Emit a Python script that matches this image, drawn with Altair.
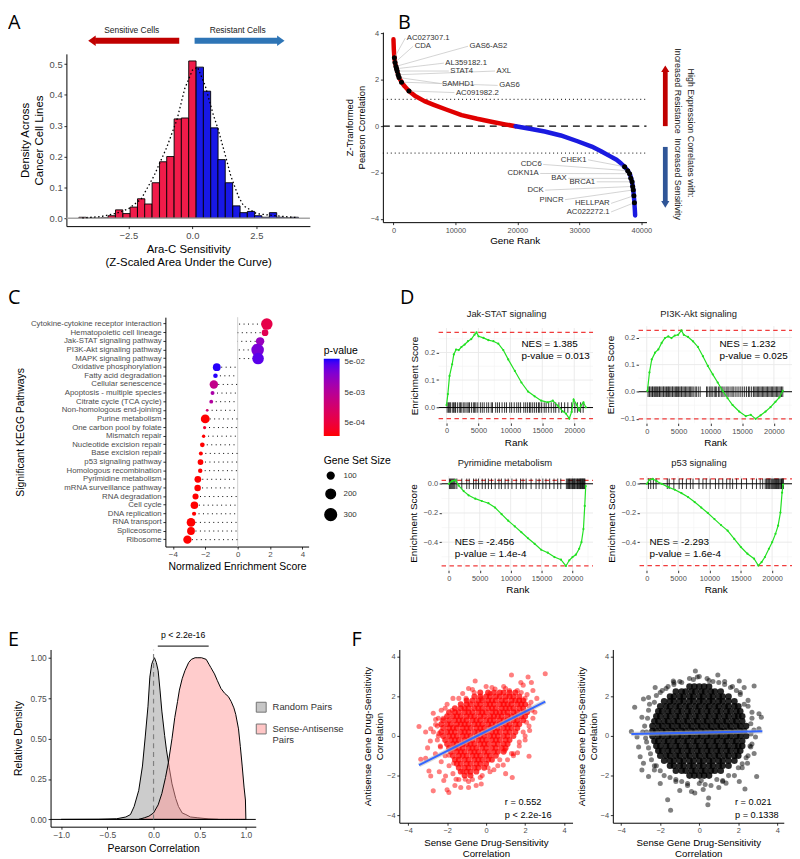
import altair as alt
import pandas as pd

# ======================= DATA =======================
# --- A: histogram of Ara-C sensitivity (30 bins) ---
A_BIN_CENTERS = [-4.29,-4.0,-3.72,-3.43,-3.15,-2.86,-2.57,-2.29,-2.0,-1.72,-1.43,-1.14,-0.86,-0.57,-0.29,
                 0.0,0.29,0.57,0.86,1.14,1.43,1.72,2.0,2.29,2.57,2.86,3.15,3.43,3.72,4.0]
A_DENSITY = [0.003,0.0,0.0,0.001,0.008,0.027,0.015,0.036,0.063,0.046,0.115,0.183,0.200,0.322,0.325,
             0.510,0.490,0.412,0.293,0.190,0.115,0.040,0.018,0.022,0.008,0.003,0.018,0.003,0.001,0.003]
A_BINWIDTH = 0.286
A_DENS_X = [-4.3,-3.6,-3.0,-2.5,-2.0,-1.5,-1.0,-0.6,-0.3,0.0,0.2,0.5,0.8,1.0,1.3,1.5,1.8,2.0,2.5,3.0,3.5,4.1]
A_DENS_Y = [0.001,0.005,0.015,0.03,0.062,0.137,0.23,0.32,0.42,0.48,0.49,0.43,0.34,0.29,0.2,0.137,0.07,0.04,0.015,0.01,0.006,0.002]
A_XTICKS = [-2.5, 0, 2.5]
A_YTICKS = [0, 0.1, 0.2, 0.3, 0.4, 0.5]

# --- B: ranked z-transformed correlations ---
B_RANK_RED = [0,60,150,250,400,600,900,1300,1800,2500,3500,5000,6500,8500,11000,13500,16000,18000,19700]
B_VAL_RED = [3.75,3.3,2.95,2.75,2.58,2.38,2.1,1.9,1.72,1.52,1.3,1.08,0.92,0.72,0.48,0.32,0.18,0.08,0.0]
B_RANK_BLUE = [19700,22000,24400,27000,29700,32000,33500,35000,36000,36700,37300,37800,38200,38500,38700,38850,38950,39000]
B_VAL_BLUE = [0.0,-0.11,-0.23,-0.4,-0.65,-0.88,-1.08,-1.3,-1.45,-1.6,-1.75,-1.92,-2.1,-2.4,-2.75,-3.2,-3.6,-3.85]
B_THRESH = [1.16, -1.16]
B_TOP_LABELS = ["AC027307.1","CDA","GAS6-AS2","AL359182.1","STAT4","AXL","SAMHD1","GAS6","AC091982.2"]
B_TOP_LAB_RANK = [1900,3180,12030,8130,8930,16390,7600,16820,9840]
B_TOP_LAB_VAL = [3.80,3.45,3.45,2.72,2.38,2.38,1.84,1.76,1.45]
B_TOP_DOT_RANK = [150,250,400,500,600,750,900,1300,2500]
B_TOP_DOT_VAL = [2.95,2.75,2.58,2.48,2.38,2.22,2.1,1.9,1.52]
B_BOT_LABELS = ["CHEK1","CDC6","CDKN1A","BAX","BRCA1","DCK","PINCR","HELLPAR","AC022272.1"]
B_BOT_LAB_RANK = [31400,24160,23680,28200,32790,24480,27680,35120,35120]
B_BOT_LAB_VAL = [-1.45,-1.65,-2.04,-2.25,-2.40,-2.76,-3.17,-3.33,-3.70]
B_BOT_DOT_RANK = [37300,37800,38100,38300,38500,38600,38700,38800,38880]
B_BOT_DOT_VAL = [-1.75,-1.92,-2.05,-2.25,-2.4,-2.6,-2.75,-3.0,-3.3]
B_XTICKS = [0, 10000, 20000, 30000, 40000]
B_YTICKS = [-4, -2, 0, 2, 4]

# --- C: KEGG GSEA dot plot ---
C_PATHWAYS = ["Cytokine-cytokine receptor interaction","Hematopoietic cell lineage","Jak-STAT signaling pathway",
              "PI3K-Akt signaling pathway","MAPK signaling pathway","Oxidative phosphorylation","Fatty acid degradation",
              "Cellular senescence","Apoptosis - multiple species","Citrate cycle (TCA cycle)","Non-homologous end-joining",
              "Purine metabolism","One carbon pool by folate","Mismatch repair","Nucleotide excision repair",
              "Base excision repair","p53 signaling pathway","Homologous recombination","Pyrimidine metabolism",
              "mRNA surveillance pathway","RNA degradation","Cell cycle","DNA replication","RNA transport",
              "Spliceosome","Ribosome"]
C_NES = [1.80,1.69,1.385,1.232,1.26,-1.29,-1.37,-1.47,-1.55,-1.63,-1.88,-2.0,-2.04,-2.1,-2.18,-2.27,-2.293,
         -2.31,-2.456,-2.47,-2.6,-2.67,-2.69,-2.88,-2.88,-3.1]
C_PVAL = [7e-4,9e-4,0.013,0.025,0.04,0.06,0.06,3.5e-3,8e-3,6e-3,1.8e-3,1.9e-4,4e-4,1.9e-4,1.9e-4,1.9e-4,1.6e-4,
          1.9e-4,1.4e-4,1.9e-4,1.9e-4,1.9e-4,1.9e-4,1.9e-4,1.9e-4,1.9e-4]
C_SIZE = [290,97,155,350,295,133,44,156,32,30,13,173,20,23,47,33,72,41,99,91,79,124,36,165,134,153]
C_XTICKS = [-4, -2, 0, 2, 4]

# --- D: GSEA running enrichment scores (ranks in thousands) ---
D_XTICKS = [0, 5000, 10000, 15000, 20000]
D_XMINOR = [2500, 7500, 12500, 17500, 22500]
JAK_HITS_K = [0.1,0.3,0.5,0.6,0.9,1.1,1.3,1.4,1.7,2.0,2.2,2.4,2.7,2.9,3.2,3.4,3.6,3.9,4.2,4.4,4.6,4.9,5.3,5.6,5.9,
              6.3,6.6,7.0,7.2,7.7,8.0,8.3,8.7,9.1,9.4,9.9,10.2,10.6,11.0,11.3,11.6,12.1,12.4,12.7,13.0,13.2,13.5,
              13.8,14.1,14.4,14.6,14.9,15.3,15.6,16.0,16.4,16.8,17.1,17.6,18.0,18.5,19.0,19.6,20.1,20.5,21.0,21.4]
JAK_CURVE_K = [0,0.21,0.47,0.88,1.14,1.5,1.91,2.33,2.84,3.36,3.88,4.39,4.7,5.01,5.79,6.56,7.34,8.11,8.89,9.66,10.7,
               11.73,12.77,13.8,14.83,15.87,16.64,17.42,18.19,18.71,19.23,19.59,19.9,20.41,20.78,21.03,21.45,21.81]
JAK_CURVE_ES = [0.009,0.049,0.115,0.157,0.193,0.211,0.209,0.22,0.229,0.241,0.249,0.265,0.273,0.259,0.253,0.245,
                0.241,0.232,0.209,0.175,0.133,0.091,0.058,0.041,0.025,0.019,0.025,0.007,-0.014,-0.022,-0.04,-0.016,
                0.029,0.009,-0.011,0.007,0.019,0.001]
JAK_LIMITS = [0.273, -0.04]
PI3K_HITS_K = [0.2,0.4,0.5,0.7,0.9,1.0,1.2,1.4,1.5,1.7,1.9,2.0,2.2,2.4,2.6,2.7,2.9,3.1,3.3,3.4,3.6,3.8,4.0,4.1,4.3,
               4.5,4.7,4.8,5.0,5.2,5.4,5.5,5.7,5.9,6.1,6.3,6.5,6.7,6.9,7.1,7.3,7.6,7.8,8.1,8.4,9.4,9.6,9.9,10.1,
               10.3,10.6,10.8,11.0,11.3,11.5,11.8,12.0,12.3,12.6,12.8,13.1,13.4,13.6,13.9,14.2,14.5,14.8,15.1,15.4,
               15.7,16.0,16.2,16.5,16.8,17.0,17.2,17.4,17.6,17.8,18.0,18.2,18.4,18.6,18.8,19.0,19.2,19.4,19.6,19.8,
               20.0,20.2,20.4,20.6,20.8,21.0,21.2,21.4]
PI3K_CURVE_K = [0.1,0.42,0.78,1.3,1.82,2.34,2.86,3.38,3.89,4.41,4.93,5.45,5.82,6.49,7.27,8.05,8.83,9.61,10.38,
                11.16,11.94,12.72,13.5,14.54,15.58,16.36,17.13,17.91,18.69,19.47,20.25,20.87,21.39]
PI3K_CURVE_ES = [0.003,0.071,0.119,0.144,0.156,0.18,0.198,0.204,0.198,0.207,0.21,0.226,0.21,0.202,0.186,0.165,
                 0.131,0.095,0.064,0.034,0.003,-0.024,-0.049,-0.073,-0.09,-0.085,-0.1,-0.087,-0.073,-0.057,-0.037,
                 -0.021,0.003]
PI3K_LIMITS = [0.226, -0.1]
PYR_HITS_K = [0.1,0.25,0.4,0.55,0.7,0.85,1.0,1.3,2.1,2.9,3.3,4.0,4.4,4.8,5.4,5.9,6.4,6.9,7.5,8.1,8.5,9.1,9.6,10.2,
              10.9,11.6,12.0,12.5,13.3,14.1,14.6,15.2,15.7,16.3,17.0,17.6,18.1,19.0,19.2,19.35,19.5,19.6,19.75,19.9,
              20.0,20.15,20.3,20.4,20.55,20.7,20.8,20.95,21.1,21.2,21.3,21.4,21.5,21.6,21.7,21.8,21.9,22.0]
PYR_CURVE_K = [0,0.53,1.07,1.6,2.4,3.2,4.27,5.33,6.4,7.47,8.53,9.6,10.67,11.73,12.8,13.87,14.93,16.0,17.07,18.13,
               18.93,19.47,20.0,20.53,21.07,21.44,21.76,21.97,22.13]
PYR_CURVE_ES = [0.0,0.018,0.024,-0.012,-0.05,-0.079,-0.102,-0.118,-0.133,-0.163,-0.208,-0.253,-0.292,-0.332,-0.373,
                -0.411,-0.452,-0.472,-0.502,-0.52,-0.563,-0.524,-0.502,-0.486,-0.445,-0.4,-0.31,-0.152,-0.016]
PYR_LIMITS = [0.024, -0.563]
P53_HITS_K = [0.26,0.63,1.05,1.48,3.27,3.58,4.32,5.16,5.69,6.32,6.96,7.38,8.33,8.96,9.49,10.12,10.96,11.49,12.12,
              12.75,13.28,13.7,14.33,15.12,15.92,16.86,17.5,18.1,18.5,18.9,19.1,19.3,19.45,19.6,19.8,19.95,20.1,
              20.25,20.4,20.55,20.7,20.85,21.0,21.1,21.25,21.4,21.5,21.6,21.7,21.8]
P53_CURVE_K = [0,0.42,0.95,1.58,2.37,3.42,4.48,5.53,6.58,7.64,8.69,9.74,10.8,11.85,12.9,13.96,15.01,16.06,17.12,
               17.8,18.33,18.85,19.49,20.01,20.54,20.96,21.33,21.59,21.75]
P53_CURVE_ES = [0.0,0.027,0.034,0.018,0.0,-0.023,-0.041,-0.064,-0.091,-0.125,-0.163,-0.2,-0.242,-0.283,-0.321,
                -0.378,-0.433,-0.479,-0.513,-0.56,-0.536,-0.502,-0.445,-0.4,-0.343,-0.287,-0.197,-0.061,-0.005]
P53_LIMITS = [0.034, -0.56]

# --- E: densities of correlation ---
E_RAND_X = [-1.0,-0.6,-0.4,-0.3,-0.25,-0.21,-0.16,-0.12,-0.09,-0.06,-0.04,-0.02,0.0,0.01,0.03,0.05,0.07,0.09,
            0.12,0.14,0.17,0.2,0.24,0.27,0.31,0.35,0.4,0.48,0.6,0.7]
E_RAND_Y = [0.0,0.001,0.004,0.015,0.03,0.08,0.18,0.33,0.51,0.7,0.88,0.96,0.99,1.0,0.97,0.92,0.8,0.67,0.52,0.43,
            0.32,0.22,0.13,0.08,0.04,0.03,0.015,0.01,0.003,0.0]
E_SENSE_X = [-0.16,-0.1,-0.05,0.0,0.05,0.09,0.13,0.16,0.2,0.23,0.26,0.28,0.31,0.34,0.38,0.41,0.45,0.48,0.52,0.57,
             0.6,0.62,0.66,0.69,0.73,0.77,0.81,0.84,0.87,0.89,0.92,0.94,0.96,0.98,0.995,1.0]
E_SENSE_Y = [0.0,0.01,0.02,0.04,0.09,0.16,0.26,0.35,0.5,0.63,0.73,0.8,0.87,0.92,0.97,0.99,1.0,1.0,1.0,0.99,0.96,
             0.94,0.9,0.86,0.81,0.78,0.76,0.73,0.69,0.65,0.56,0.45,0.33,0.2,0.12,0.0]
E_GROUPS = ["Random Pairs", "Sense-Antisense Pairs"]
E_XTICKS = [-1.0, -0.5, 0.0, 0.5, 1.0]
E_YTICKS = [0.0, 0.25, 0.5, 0.75, 1.0]

# --- F: sense vs antisense scatter ---
F_TICKS = [-4, -2, 0, 2, 4]
RED_SPARSE = [(-3.44,0.48),(-2.84,0.37),(-2.71,1.15),(-2.59,0.83),(-2.2,0.9),(-1.74,1.3),(-1.03,1.9),(-0.56,2.78),
              (-0.61,2.2),(-0.25,1.9),(0.2,2.15),(0.46,2.37),(1.3,3.08),(1.78,2.7),(1.9,2.57),(2.15,2.98),(2.32,2.7),
              (3.03,3.15),(2.07,0.7),(2.23,0.28),(2.2,-1.02),(1.34,-2.1),(1.61,-0.85),(0.88,-1.47),(-0.25,-2.42),
              (-0.51,-2.5),(-1.07,-2.18),(-1.54,-2.18),(-2.0,-2.72),(-1.91,-2.85),(-2.71,-2.77),(-2.93,-1.77),
              (-2.84,-2.02),(-2.17,-2.25),(-2.08,-2.02),(-3.35,-1.17),(-3.1,-1.13),(-2.42,0.12),(-2.59,0.58),
              (-2.86,-0.25),(-2.34,-0.55),(-1.91,-0.97),(-1.66,-1.38),(0.96,-0.72),(1.3,-0.88),(2.4,2.3),(2.2,1.5),
              (2.5,1.2),(2.4,0.9),(1.9,0.2),(1.7,-0.3),(1.4,-1.0),(0.7,-1.2),(0.4,-1.7),(0.1,-1.6),(-0.2,-2.0),
              (-0.7,-2.2),(-1.2,-1.8),(-2.3,-1.3),(-2.6,-0.9),(-2.5,-0.2),(-2.7,0.2),(-2.1,1.4),(-1.4,1.9),
              (-0.9,2.4),(0.0,2.5),(0.9,2.5),(1.2,2.3),(1.8,2.2),(2.0,1.9),(-1.6,-2.5),(-2.4,-1.8),(-1.3,-2.6),
              (-3.0,-0.6),(-3.1,0.2),(2.6,1.9),(1.0,-1.9),(-0.9,-2.6),(2.0,-0.2),
              (-2.5,0.5),(-2.45,0.9),(-2.3,1.3),(-2.0,1.6),(-1.7,1.9),(-1.2,2.15),(-0.7,2.35),(0.3,2.45),
              (1.0,2.4),(1.6,2.3),(2.1,2.1),(2.3,1.7),(2.35,1.3),(2.2,0.5),(2.0,0.0),(1.7,-0.5),(1.4,-0.9),
              (1.1,-1.2),(0.6,-1.5),(0.2,-1.8),(-0.3,-2.1),(-0.9,-2.3),(-1.4,-2.2),(-1.7,-1.9),(-1.9,-1.5),
              (-2.1,-1.0),(-2.35,-0.5),(-2.45,0.0)]
RED_CORE = {2.2:[-0.3,0.1,0.4,0.7,0.9,1.2,1.5],
            2.0:[-0.6,-0.3,0.0,0.2,0.5,0.7,1.0,1.2,1.4,1.7],
            1.8:[-1.0,-0.7,-0.4,-0.2,0.1,0.3,0.5,0.8,1.0,1.3,1.5,1.7,1.9],
            1.6:[-1.3,-1.0,-0.8,-0.5,-0.3,0.0,0.2,0.4,0.7,0.9,1.1,1.3,1.6,1.8,2.0],
            1.4:[-1.6,-1.3,-1.1,-0.9,-0.6,-0.4,-0.2,0.1,0.3,0.5,0.8,1.0,1.2,1.4,1.7,1.9],
            1.2:[-1.9,-1.6,-1.4,-1.1,-0.9,-0.7,-0.4,-0.2,0.0,0.3,0.5,0.7,0.9,1.1,1.4,1.6,1.9,2.1],
            1.0:[-2.0,-1.7,-1.5,-1.3,-1.0,-0.8,-0.6,-0.3,-0.1,0.2,0.4,0.6,0.8,1.1,1.3,1.5,1.8,2.0],
            0.8:[-2.2,-1.9,-1.6,-1.4,-1.2,-1.0,-0.7,-0.5,-0.3,0.0,0.2,0.4,0.7,0.9,1.1,1.4,1.6,1.9],
            0.6:[-2.3,-2.0,-1.8,-1.5,-1.3,-1.1,-0.9,-0.6,-0.4,-0.2,0.1,0.3,0.5,0.7,1.0,1.2,1.5,1.7],
            0.4:[-2.2,-1.9,-1.7,-1.5,-1.2,-1.0,-0.8,-0.5,-0.3,-0.1,0.2,0.4,0.6,0.9,1.1,1.3,1.6],
            0.2:[-2.3,-2.0,-1.8,-1.6,-1.3,-1.1,-0.9,-0.6,-0.4,-0.2,0.0,0.3,0.5,0.7,1.0,1.2,1.5],
            0.0:[-2.2,-1.9,-1.7,-1.5,-1.2,-1.0,-0.8,-0.5,-0.3,-0.1,0.2,0.4,0.6,0.9,1.1,1.4],
            -0.2:[-2.1,-1.8,-1.6,-1.4,-1.1,-0.9,-0.7,-0.4,-0.2,0.0,0.3,0.5,0.7,1.0,1.2],
            -0.4:[-2.0,-1.7,-1.5,-1.2,-1.0,-0.8,-0.6,-0.3,-0.1,0.1,0.4,0.6,0.9,1.1],
            -0.6:[-1.9,-1.6,-1.4,-1.2,-0.9,-0.7,-0.5,-0.2,0.0,0.3,0.5,0.8,1.0],
            -0.8:[-1.8,-1.5,-1.3,-1.1,-0.8,-0.6,-0.4,-0.1,0.1,0.4,0.6,0.9],
            -1.0:[-1.7,-1.4,-1.2,-1.0,-0.7,-0.5,-0.3,0.0,0.2,0.5],
            -1.2:[-1.6,-1.4,-1.1,-0.9,-0.6,-0.4,-0.2,0.1,0.3],
            -1.4:[-1.5,-1.3,-1.0,-0.8,-0.5,-0.3,0.0],
            -1.6:[-1.4,-1.1,-0.9,-0.6,-0.4,-0.1],
            -1.8:[-1.3,-1.0,-0.8,-0.5],
            -2.0:[-1.1,-0.8]}
BLACK_SPARSE = [(-3.31,1.45),(-3.48,0.23),(-2.94,0.95),(-2.86,1.87),(-2.6,1.95),(-2.26,2.45),(-1.33,2.78),
                (-0.2,3.28),(-0.1,2.98),(0.95,3.08),(2.05,2.78),(2.3,2.45),(2.81,2.53),(3.06,1.12),(3.18,0.95),
                (2.64,0.62),(2.94,-2.05),(2.34,-2.68),(2.05,-2.3),(1.37,-2.38),(0.48,-3.13),(0.44,-3.47),
                (-0.23,-2.88),(-1.0,-2.75),(-1.62,-3.22),(-1.47,-3.75),(-2.6,-2.05),(-2.94,-1.72),(-3.11,-0.55),
                (-3.03,-1.05),(-2.86,-1.38),(-2.3,-1.72),(-3.19,-0.05),(2.64,-0.55),(2.81,-0.88),(2.47,-1.38),
                (2.88,-0.05),(3.06,0.37),(-2.8,0.5),(-2.7,-0.3),(-2.6,1.3),(-2.0,2.2),(-1.7,2.4),(-0.9,2.7),
                (-0.5,2.9),(0.4,2.9),(0.7,2.75),(1.3,2.6),(1.7,2.5),(2.1,2.2),(2.5,1.8),(2.7,1.2),(2.8,0.3),
                (2.7,-0.4),(2.5,-1.0),(2.2,-1.6),(1.8,-2.0),(1.2,-2.3),(0.6,-2.5),(0.0,-2.4),(-0.6,-2.4),
                (-1.2,-2.3),(-1.8,-2.0),(-2.2,-1.5),(-2.5,-0.9),(-2.9,0.2),(-2.3,1.7),(0.2,-2.7),(-0.4,-2.8),
                (1.0,-2.6),(-1.3,2.6),(-2.0,-2.4),(2.3,1.6),
                (-2.65,0.9),(-2.6,-0.6),(-2.55,1.6),(-2.45,-1.2),(-2.2,2.05),(-2.0,-1.75),(-1.6,2.5),(-1.5,-2.1),
                (-1.0,2.75),(-0.9,-2.3),(-0.3,2.85),(0.1,-2.25),(0.5,2.8),(0.9,-2.2),(1.0,2.7),(1.5,-2.0),
                (1.6,2.45),(2.0,-1.6),(2.1,2.1),(2.4,-1.1),(2.5,1.5),(2.6,-0.5),(2.7,0.9),(2.65,0.1),(-2.7,0.2),
                (-2.75,-0.1),(-2.3,-1.5),(-1.9,2.3),(1.9,2.3),(2.2,-1.4),(-0.6,-2.5),(0.3,-2.45),(1.2,-2.25),
                (-1.2,-2.2),(0.0,3.0),(-1.3,2.7),(1.3,2.75)]
BLACK_CORE = {2.5:[-0.5,-0.25,0.0,0.25,0.5],
              2.25:[-1.2,-0.9,-0.7,-0.4,-0.2,0.1,0.3,0.6,0.8,1.1],
              2.0:[-1.5,-1.3,-1.0,-0.8,-0.5,-0.3,0.0,0.2,0.5,0.7,1.0,1.2,1.5],
              1.75:[-1.8,-1.5,-1.3,-1.0,-0.8,-0.5,-0.3,0.0,0.2,0.5,0.7,1.0,1.2,1.5,1.8],
              1.5:[-2.0,-1.7,-1.5,-1.2,-1.0,-0.7,-0.5,-0.2,0.0,0.3,0.5,0.8,1.0,1.3,1.5,1.8,2.0],
              1.25:[-2.1,-1.9,-1.6,-1.4,-1.1,-0.9,-0.6,-0.4,-0.1,0.1,0.4,0.6,0.9,1.1,1.4,1.6,1.9,2.1],
              1.0:[-2.2,-2.0,-1.7,-1.5,-1.2,-1.0,-0.7,-0.5,-0.2,0.0,0.3,0.5,0.8,1.0,1.3,1.5,1.8,2.0,2.2],
              0.75:[-2.3,-2.1,-1.8,-1.6,-1.3,-1.1,-0.8,-0.6,-0.3,-0.1,0.2,0.4,0.7,0.9,1.2,1.4,1.7,1.9,2.2],
              0.5:[-2.4,-2.1,-1.9,-1.6,-1.4,-1.1,-0.9,-0.6,-0.4,-0.1,0.1,0.4,0.6,0.9,1.1,1.4,1.6,1.9,2.1,2.4],
              0.25:[-2.4,-2.2,-1.9,-1.7,-1.4,-1.2,-0.9,-0.7,-0.4,-0.2,0.1,0.3,0.6,0.8,1.1,1.3,1.6,1.8,2.1,2.3],
              0.0:[-2.4,-2.1,-1.9,-1.6,-1.4,-1.1,-0.9,-0.6,-0.4,-0.1,0.1,0.4,0.6,0.9,1.1,1.4,1.6,1.9,2.1,2.4],
              -0.25:[-2.3,-2.1,-1.8,-1.6,-1.3,-1.1,-0.8,-0.6,-0.3,-0.1,0.2,0.4,0.7,0.9,1.2,1.4,1.7,1.9,2.2],
              -0.5:[-2.2,-2.0,-1.7,-1.5,-1.2,-1.0,-0.7,-0.5,-0.2,0.0,0.3,0.5,0.8,1.0,1.3,1.5,1.8,2.0,2.2],
              -0.75:[-2.1,-1.9,-1.6,-1.4,-1.1,-0.9,-0.6,-0.4,-0.1,0.1,0.4,0.6,0.9,1.1,1.4,1.6,1.9,2.1],
              -1.0:[-2.0,-1.7,-1.5,-1.2,-1.0,-0.7,-0.5,-0.2,0.0,0.3,0.5,0.8,1.0,1.3,1.5,1.8,2.0],
              -1.25:[-1.8,-1.5,-1.3,-1.0,-0.8,-0.5,-0.3,0.0,0.2,0.5,0.7,1.0,1.2,1.5,1.8],
              -1.5:[-1.5,-1.3,-1.0,-0.8,-0.5,-0.3,0.0,0.2,0.5,0.7,1.0,1.2,1.5],
              -1.75:[-1.2,-0.9,-0.7,-0.4,-0.2,0.1,0.3,0.6,0.8,1.1],
              -2.0:[-0.5,-0.25,0.0,0.25,0.5]}
F_LEFT_FIT_X = [-3.44, 3.03]
F_LEFT_FIT_Y = [-1.47, 1.74]
F_RIGHT_FIT_X = [-3.48, 3.23]
F_RIGHT_FIT_Y = [0.10, 0.235]

PANEL_LETTERS = ["A", "B", "C", "D", "E", "F"]

# ======================= LAYOUT HELPERS =======================
W, H = 792, 851
FONT = "Liberation Sans"
DUMMY = pd.DataFrame({"k": [0]})
AXSTYLE = dict(labelFont=FONT, titleFont=FONT, labelColor="#4d4d4d", titleColor="black", tickColor="#333333",
               domainColor="black", titleFontWeight="normal", grid=False, labelFlush=False, labelOverlap=False)


def X(v):
    return v - 8


def Y(v):
    return v - 8


def xsc(dom, left, right):
    return alt.Scale(domain=dom, range=[X(left), X(right)], nice=False, zero=False)


def ysc(dom, bottom, top):
    return alt.Scale(domain=dom, range=[Y(bottom), Y(top)], nice=False, zero=False)


def axis_b(at, title, lsize, tsize, tpad, values=None, fmt=None, domain=True, lpad=1.8, tick=2.5):
    kw = dict(orient="bottom", offset=Y(at) - H, title=title, labelFontSize=lsize, titleFontSize=tsize,
              titlePadding=tpad, domain=domain, tickSize=tick, labelPadding=lpad, **AXSTYLE)
    if values is not None:
        kw["values"] = values
    if fmt:
        kw["format"] = fmt
    return alt.Axis(**kw)


def axis_l(at, title, lsize, tsize, tpad, values=None, fmt=None, domain=True, lpad=1.8, tick=2.5):
    kw = dict(orient="left", offset=-X(at), title=title, labelFontSize=lsize, titleFontSize=tsize,
              titlePadding=tpad, domain=domain, tickSize=tick, labelPadding=lpad, labelLimit=300, **AXSTYLE)
    if values is not None:
        kw["values"] = values
    if fmt:
        kw["format"] = fmt
    return alt.Axis(**kw)


def ptext(txt, x, y, size, align="center", baseline="middle", angle=None, color="black", font=FONT):
    kw = dict(align=align, baseline=baseline, fontSize=size, color=color, font=font)
    if angle is not None:
        kw["angle"] = angle
    return alt.Chart(DUMMY).mark_text(**kw).encode(x=alt.value(max(X(x), 0)), y=alt.value(Y(y)),
                                                   text=alt.value(txt))


def prule(x1, y1, x2, y2, color, width):
    return alt.Chart(DUMMY).mark_rule(color=color, strokeWidth=width).encode(
        x=alt.value(X(x1)), y=alt.value(Y(y1)), x2=alt.value(X(x2)), y2=alt.value(Y(y2)))


def pshape(path, x, y, size, color):
    return alt.Chart(DUMMY).mark_point(shape=path, size=size, filled=True, color=color, opacity=1,
                                       strokeWidth=0).encode(x=alt.value(X(x)), y=alt.value(Y(y)))


def dtext(txt, xd, yd, sx, sy, axx, axy, size, align="left", baseline="middle", color="black"):
    return alt.Chart(DUMMY).mark_text(align=align, baseline=baseline, fontSize=size, color=color,
                                      font=FONT).encode(
        x=alt.XDatum(xd, scale=sx, axis=axx), y=alt.YDatum(yd, scale=sy, axis=axy), text=alt.value(txt))


layers = []

# ======================= PANEL A =======================
ax_ = xsc([-4.92, 4.59], 67, 313)
ay_ = ysc([-0.0257, 0.533], 224, 50)
axA = axis_b(224, ["Ara-C Sensitivity", "(Z-Scaled Area Under the Curve)"], 9.5, 11.5, 4, values=A_XTICKS, fmt=".1f")
ayA = axis_l(67, ["Density Across", "Cancer Cell Lines"], 9.5, 11.5, 5, values=A_YTICKS, fmt=".1f")
dfA = pd.DataFrame({"c": A_BIN_CENTERS, "d": A_DENSITY})
dfA["lo"] = dfA["c"] - A_BINWIDTH / 2
dfA["hi"] = dfA["c"] + A_BINWIDTH / 2
dfA["side"] = ["sens" if c <= 0 else "res" for c in dfA["c"]]
A_bars = alt.Chart(dfA).mark_bar(stroke="black", strokeWidth=0.9, opacity=1).encode(
    x=alt.X("lo:Q", scale=ax_, axis=axA), x2="hi:Q",
    y=alt.Y("d:Q", scale=ay_, axis=ayA), y2=alt.Y2Datum(0),
    color=alt.Color("side:N", scale=alt.Scale(domain=["sens", "res"], range=["#F01C4A", "#1818E6"]), legend=None))
A_zero = alt.Chart(DUMMY).mark_rule(color="#a6a6a6", strokeWidth=1.5).encode(
    y=alt.YDatum(0, scale=ay_, axis=ayA), x=alt.value(X(67)), x2=alt.value(X(313)))
A_dens = alt.Chart(pd.DataFrame({"x": A_DENS_X, "y": A_DENS_Y})).mark_line(
    color="black", strokeDash=[1.5, 2.5], strokeWidth=1.3).encode(
    x=alt.X("x:Q", scale=ax_, axis=axA), y=alt.Y("y:Q", scale=ay_, axis=ayA))
layers.append(alt.layer(A_bars, A_zero, A_dens))
layers += [
    prule(96, 36.7, 181, 36.7, "#C00000", 6),
    pshape("M-0.7,0L0.7,-1L0.7,1Z", 92.8, 36.7, 115, "#C00000"),
    prule(196.5, 36.7, 281, 36.7, "#2E75B6", 6),
    pshape("M0.7,0L-0.7,-1L-0.7,1Z", 283.6, 36.7, 115, "#2E75B6"),
    ptext("Sensitive Cells", 133, 25.7, 8.5, color="#222"),
    ptext("Resistant Cells", 240, 25.7, 8.5, color="#222"),
]

# ======================= PANEL B =======================
bx = xsc([-1710, 40830], 386.7, 653)
by = ysc([-4.14, 4.06], 220, 28)
axB = axis_b(220, "Gene Rank", 7.5, 10, 2, values=B_XTICKS, fmt="d")
ayB = axis_l(386.7, ["Z-Tranformed", "Pearson Correlation"], 7.5, 9.5, 4, values=B_YTICKS, fmt="d")
B_thr = alt.Chart(pd.DataFrame({"h": B_THRESH})).mark_rule(color="black", strokeDash=[1, 3], strokeWidth=1).encode(
    y=alt.Y("h:Q", scale=by, axis=ayB), x=alt.value(X(386.7)), x2=alt.value(X(653)))
B_zero = alt.Chart(DUMMY).mark_rule(color="black", strokeDash=[7, 5], strokeWidth=1.2).encode(
    y=alt.YDatum(0, scale=by, axis=ayB), x=alt.value(X(386.7)), x2=alt.value(X(653)))
B_red = alt.Chart(pd.DataFrame({"r": B_RANK_RED, "v": B_VAL_RED})).mark_line(
    color="#E00000", strokeWidth=4.5, strokeCap="round", strokeJoin="round").encode(
    x=alt.X("r:Q", scale=bx, axis=axB), y=alt.Y("v:Q", scale=by, axis=ayB))
B_blue = alt.Chart(pd.DataFrame({"r": B_RANK_BLUE, "v": B_VAL_BLUE})).mark_line(
    color="#1A1AE0", strokeWidth=4.5, strokeCap="round", strokeJoin="round").encode(
    x=alt.X("r:Q", scale=bx, axis=axB), y=alt.Y("v:Q", scale=by, axis=ayB))
dfBt = pd.DataFrame({"lab": B_TOP_LABELS, "lr": B_TOP_LAB_RANK, "lv": B_TOP_LAB_VAL,
                     "dr": B_TOP_DOT_RANK, "dv": B_TOP_DOT_VAL})
dfBb = pd.DataFrame({"lab": B_BOT_LABELS, "lr": B_BOT_LAB_RANK, "lv": B_BOT_LAB_VAL,
                     "dr": B_BOT_DOT_RANK, "dv": B_BOT_DOT_VAL})
dfBall = pd.concat([dfBt, dfBb], ignore_index=True)
B_seg = alt.Chart(dfBall).mark_rule(color="#c8c8c8", strokeWidth=0.8).encode(
    x=alt.X("lr:Q", scale=bx, axis=axB), y=alt.Y("lv:Q", scale=by, axis=ayB), x2="dr:Q", y2="dv:Q")
B_dots = alt.Chart(dfBall).mark_circle(color="black", size=26, opacity=1).encode(
    x=alt.X("dr:Q", scale=bx, axis=axB), y=alt.Y("dv:Q", scale=by, axis=ayB))
B_labt = alt.Chart(dfBt).mark_text(align="left", baseline="middle", dx=1.5, fontSize=7.8, color="#333",
                                   font=FONT).encode(
    x=alt.X("lr:Q", scale=bx, axis=axB), y=alt.Y("lv:Q", scale=by, axis=ayB), text="lab:N")
B_labb = alt.Chart(dfBb).mark_text(align="right", baseline="middle", dx=-1.5, fontSize=7.8, color="#333",
                                   font=FONT).encode(
    x=alt.X("lr:Q", scale=bx, axis=axB), y=alt.Y("lv:Q", scale=by, axis=ayB), text="lab:N")
layers.append(alt.layer(B_thr, B_zero, B_red, B_blue, B_seg, B_dots, B_labt, B_labb))
layers += [
    prule(672, 123, 672, 67, "#C00000", 4.8),
    pshape("M0,-0.8L1,0.8L-1,0.8Z", 672, 65, 69, "#C00000"),
    prule(672, 144, 672, 200, "#2F5597", 4.8),
    pshape("M0,0.8L1,-0.8L-1,-0.8Z", 672, 202, 69, "#2F5597"),
    ptext("High Expression Correlates  with:", 697.7, 130, 9, angle=90, color="#222"),
    ptext("Increased Resistance", 684.5, 87.5, 9, angle=90, color="#222"),
    ptext("Increased Sensitivity", 684.5, 176.5, 9, angle=90, color="#222"),
]

# ======================= PANEL C =======================
cx = xsc([-4.46, 4.38], 167, 311.7)
cy = alt.Scale(domain=C_PATHWAYS, range=[Y(316), Y(547.7)], padding=0.6)
axC = axis_b(547.7, "Normalized Enrichment Score", 8, 10.5, 3, values=C_XTICKS, fmt="d")
ayC = axis_l(167, "Significant KEGG Pathways", 7.9, 10.5, 5)
dfC = pd.DataFrame({"path": C_PATHWAYS, "nes": C_NES, "p": C_PVAL, "gs": C_SIZE})
C_v = alt.Chart(DUMMY).mark_rule(color="#d0d0d0", strokeWidth=1).encode(
    x=alt.XDatum(0, scale=cx, axis=axC), y=alt.value(Y(316)), y2=alt.value(Y(547.7)))
C_lines = alt.Chart(dfC).mark_rule(color="black", strokeDash=[1, 3.5], strokeWidth=1).encode(
    x=alt.X("nes:Q", scale=cx, axis=axC), x2=alt.X2Datum(0),
    y=alt.Y("path:N", scale=cy, axis=ayC))
C_pts = alt.Chart(dfC).mark_circle(opacity=1).encode(
    x=alt.X("nes:Q", scale=cx, axis=axC),
    y=alt.Y("path:N", scale=cy, axis=ayC),
    color=alt.Color("p:Q", scale=alt.Scale(type="log", domain=[1.9e-4, 0.066], range=["#FF0000", "#0000FF"],
                                           interpolate="lab", clamp=True),
                    legend=alt.Legend(title="p-value", orient="none", legendX=X(327), legendY=Y(345.5),
                                      direction="vertical", gradientLength=78, gradientThickness=16,
                                      gradientStrokeWidth=0, values=[5e-4, 5e-3, 5e-2],
                                      labelExpr="datum.value > 0.02 ? '5e-02' : (datum.value > 0.002 ? '5e-03' : '5e-04')",
                                      titleFontSize=10.5, labelFontSize=8, titlePadding=2, labelOffset=5)),
    size=alt.Size("gs:Q", scale=alt.Scale(domain=[13, 350], range=[7.3, 161], zero=False),
                  legend=alt.Legend(title="Gene Set Size", orient="none", legendX=X(327), legendY=Y(456),
                                    values=[100, 200, 300], symbolFillColor="black", symbolStrokeColor="black",
                                    symbolOpacity=1, symbolType="circle", titleFontSize=10.5, labelFontSize=8,
                                    rowPadding=4, titlePadding=5, labelOffset=6)))
layers.append(alt.layer(C_v, C_lines, C_pts))

# ======================= PANEL D =======================


def gsea(hits_k, curve_k, curve_es, limits, xpx, ypx, xdom, ydom, zero_px, ymaj, ymin, title, title_xy,
         nes, pv, nes_xy):
    left, right = xpx
    bottom, top = ypx
    sx = xsc(xdom, left, right)
    sy = ysc(ydom, bottom, top)
    axx = axis_b(bottom, "Rank", 7.5, 10, 3, values=D_XTICKS, fmt="d", domain=False, lpad=1.5)
    axy = axis_l(left, "Enrichment Score", 7.5, 10, 5, values=ymaj, fmt=".1f", domain=False, lpad=1.5)
    L = []
    L.append(alt.Chart(pd.DataFrame({"g": D_XMINOR})).mark_rule(color="#f4f4f4", strokeWidth=0.6).encode(
        x=alt.X("g:Q", scale=sx, axis=axx), y=alt.value(Y(top)), y2=alt.value(Y(bottom))))
    L.append(alt.Chart(pd.DataFrame({"g": ymin})).mark_rule(color="#f4f4f4", strokeWidth=0.6).encode(
        y=alt.Y("g:Q", scale=sy, axis=axy), x=alt.value(X(left)), x2=alt.value(X(right))))
    L.append(alt.Chart(pd.DataFrame({"g": D_XTICKS})).mark_rule(color="#e9e9e9", strokeWidth=0.9).encode(
        x=alt.X("g:Q", scale=sx, axis=axx), y=alt.value(Y(top)), y2=alt.value(Y(bottom))))
    L.append(alt.Chart(pd.DataFrame({"g": ymaj})).mark_rule(color="#e9e9e9", strokeWidth=0.9).encode(
        y=alt.Y("g:Q", scale=sy, axis=axy), x=alt.value(X(left)), x2=alt.value(X(right))))
    L.append(alt.Chart(pd.DataFrame({"g": limits})).mark_rule(color="#F03C3C", strokeDash=[4.5, 3.5],
                                                             strokeWidth=1.3).encode(
        y=alt.Y("g:Q", scale=sy, axis=axy), x=alt.value(X(left)), x2=alt.value(X(right))))
    dfh = pd.DataFrame({"r": [v * 1000 for v in hits_k]})
    L.append(alt.Chart(dfh).mark_rule(color="black", strokeWidth=0.8).encode(
        x=alt.X("r:Q", scale=sx, axis=axx), y=alt.value(Y(zero_px - 5.3)), y2=alt.value(Y(zero_px + 5.3))))
    L.append(alt.Chart(DUMMY).mark_rule(color="black", strokeWidth=1).encode(
        y=alt.YDatum(0, scale=sy, axis=axy), x=alt.value(X(left)), x2=alt.value(X(right))))
    dfc = pd.DataFrame({"r": [v * 1000 for v in curve_k], "es": curve_es})
    L.append(alt.Chart(dfc).mark_line(color="#22E022", strokeWidth=1.2).encode(
        x=alt.X("r:Q", scale=sx, axis=axx), y=alt.Y("es:Q", scale=sy, axis=axy)))
    L.append(alt.Chart(dfc).mark_circle(color="#22E022", size=5, opacity=1).encode(
        x=alt.X("r:Q", scale=sx, axis=axx), y=alt.Y("es:Q", scale=sy, axis=axy)))
    inner = alt.layer(*L)
    extra = [ptext(title, title_xy[0], title_xy[1], 9.5, color="#1a1a1a"),
             ptext(nes, nes_xy[0], nes_xy[1], 10, align="left"),
             ptext(pv, nes_xy[0], nes_xy[1] + 12.3, 10, align="left")]
    return [inner] + extra


layers += gsea(JAK_HITS_K, JAK_CURVE_K, JAK_CURVE_ES, JAK_LIMITS, (443, 599), (422.8, 327),
               [-1240, 22945], [-0.0558, 0.2888], 407.3, [0.0, 0.1, 0.2], [-0.05, 0.05, 0.15, 0.25],
               "Jak-STAT signaling", (511.7, 313.3), "NES = 1.385", "p-value = 0.013", (526.7, 343.3))
layers += gsea(PI3K_HITS_K, PI3K_CURVE_K, PI3K_CURVE_ES, PI3K_LIMITS, (645, 800), (423, 325),
               [-1293, 22850], [-0.1157, 0.242], 391.3, [-0.1, 0.0, 0.1, 0.2], [-0.05, 0.05, 0.15],
               "PI3K-Akt signaling", (705.7, 313.3), "NES = 1.232", "p-value = 0.025", (726.7, 343.3))
layers += gsea(PYR_HITS_K, PYR_CURVE_K, PYR_CURVE_ES, PYR_LIMITS, (446, 599), (571.6, 476.3),
               [-1168, 23310], [-0.592, 0.0542], 484.3, [-0.4, -0.2, 0.0], [-0.5, -0.3, -0.1],
               "Pyrimidine metabolism", (510, 463.3), "NES = -2.456", "p-value = 1.4e-4", (459.3, 543.3))
layers += gsea(P53_HITS_K, P53_CURVE_K, P53_CURVE_ES, P53_LIMITS, (646, 800), (571.6, 476.3),
               [-1153, 23175], [-0.592, 0.0542], 484.3, [-0.4, -0.2, 0.0], [-0.5, -0.3, -0.1],
               "p53 signaling", (706, 463.3), "NES = -2.293", "p-value = 1.6e-4", (656, 543.3))

# ======================= PANEL E =======================
ex = xsc([-1.115, 1.107], 51, 258.3)
ey = ysc([-0.045, 1.051], 830.7, 651.7)
axE = axis_b(830.7, "Pearson Correlation", 8.5, 10.5, 4, values=E_XTICKS, fmt=".1f")
ayE = axis_l(51, "Relative Density", 8.5, 10.5, 7, values=E_YTICKS, fmt=".2f")
dfE = pd.concat([pd.DataFrame({"x": E_RAND_X, "y": E_RAND_Y, "grp": E_GROUPS[0]}),
                 pd.DataFrame({"x": E_SENSE_X, "y": E_SENSE_Y, "grp": E_GROUPS[1]})], ignore_index=True)
E_area = alt.Chart(dfE).mark_area(fillOpacity=0.5, stroke="black", strokeWidth=1).encode(
    x=alt.X("x:Q", scale=ex, axis=axE),
    y=alt.Y("y:Q", scale=ey, stack=None, axis=ayE),
    y2=alt.Y2Datum(0),
    fill=alt.Fill("grp:N", scale=alt.Scale(domain=E_GROUPS, range=["#999999", "#FF9999"]),
                  legend=alt.Legend(title=None, orient="none", legendX=X(258.3), legendY=Y(704.5),
                                    symbolType="square", symbolSize=100, symbolStrokeColor="black",
                                    symbolStrokeWidth=1, symbolOpacity=0.55, labelFontSize=9.5,
                                    labelExpr="datum.label == 'Sense-Antisense Pairs' ? ['Sense-Antisense', 'Pairs'] : datum.label",
                                    rowPadding=7, labelOffset=6)))
E_zero = alt.Chart(DUMMY).mark_rule(color="black", strokeWidth=1).encode(
    y=alt.YDatum(0, scale=ey, axis=ayE), x=alt.value(X(51)), x2=alt.value(X(258.3)))
E_dash = alt.Chart(DUMMY).mark_rule(color="#808080", strokeDash=[5, 4], strokeWidth=1.2).encode(
    x=alt.XDatum(0, scale=ex, axis=axE), y=alt.YDatum(0, scale=ey, axis=ayE), y2=alt.Y2Datum(1.05))
E_br = alt.Chart(DUMMY).mark_rule(color="black", strokeWidth=1).encode(
    x=alt.XDatum(0.046, scale=ex, axis=axE), x2=alt.X2Datum(0.597), y=alt.YDatum(1.072, scale=ey, axis=ayE))
E_p = dtext("p < 2.2e-16", 0.32, 1.143, ex, ey, axE, ayE, 8.8, align="center")
layers.append(alt.layer(E_area, E_zero, E_dash, E_br, E_p))

# ======================= PANEL F =======================


def core_df(rows):
    return pd.DataFrame([(x, y) for y, xsl in rows.items() for x in xsl], columns=["x", "y"])


def scatter(sparse, core, color, core_op, core_size, fitx, fity, left, right, xdom, yaxis_at, rtxt, ptxt, txt_x):
    sx = xsc(xdom, left, right)
    sy = ysc([-4.38, 4.37], 826.7, 651.7)
    axx = axis_b(826.7, ["Sense Gene Drug-Sensitivity", "Correlation"], 7.5, 9.8, 3, values=F_TICKS, fmt="d")
    axy = axis_l(yaxis_at, ["Antisense Gene Drug-Sensitivity", "Correlation"], 7.5, 9.8, 2, values=F_TICKS, fmt="d")
    dfs = pd.DataFrame(sparse, columns=["x", "y"])
    dfc = core_df(core)
    dff = pd.DataFrame({"x": fitx, "y": fity})
    L = [
        alt.Chart(dfs).mark_circle(color=color, opacity=0.5, size=26).encode(
            x=alt.X("x:Q", scale=sx, axis=axx), y=alt.Y("y:Q", scale=sy, axis=axy)),
        alt.Chart(dfc).mark_circle(color=color, opacity=core_op, size=core_size).encode(
            x=alt.X("x:Q", scale=sx, axis=axx), y=alt.Y("y:Q", scale=sy, axis=axy)),
        alt.Chart(dff).mark_line(color="#bdbdbd", strokeWidth=4.5, opacity=0.6).encode(
            x=alt.X("x:Q", scale=sx, axis=axx), y=alt.Y("y:Q", scale=sy, axis=axy)),
        alt.Chart(dff).mark_line(color="#3366FF", strokeWidth=2).encode(
            x=alt.X("x:Q", scale=sx, axis=axx), y=alt.Y("y:Q", scale=sy, axis=axy)),
        dtext(rtxt, txt_x, -3.33, sx, sy, axx, axy, 9.3),
        dtext(ptxt, txt_x, -4.0, sx, sy, axx, axy, 9.3),
    ]
    return alt.layer(*L)


layers.append(scatter(RED_SPARSE, RED_CORE, "#FF0000", 0.75, 36, F_LEFT_FIT_X, F_LEFT_FIT_Y, 403.3, 578.3,
                      [-4.45, 4.43], 403.3, "r = 0.552", "p < 2.2e-16", 0.96))
layers.append(scatter(BLACK_SPARSE, BLACK_CORE, "#000000", 0.85, 44, F_RIGHT_FIT_X, F_RIGHT_FIT_Y, 619, 791.7,
                      [-4.43, 4.33], 619, "r = 0.021", "p = 0.1338", 1.83))

# ======================= PANEL LETTERS =======================
LETTER_POS = [(2, 25), (402, 25), (2, 303), (404, 303), (0, 648), (355, 648)]
for letter, (lx, ly) in zip(PANEL_LETTERS, LETTER_POS):
    layers.append(ptext(letter, lx, ly, 20, align="left", baseline="alphabetic", font="Open Sans"))

chart = alt.layer(*layers).resolve_scale(
    x="independent", y="independent", color="independent", size="independent", fill="independent"
).properties(
    width=W, height=H, autosize=alt.AutoSizeParams(type="none"), padding=0
).configure_view(strokeWidth=0).configure_legend(
    labelFont=FONT, titleFont=FONT, titleFontWeight="normal", labelColor="#333333", titleColor="black"
)

chart.save("out.html", embed_options={"renderer": "svg", "actions": False})
